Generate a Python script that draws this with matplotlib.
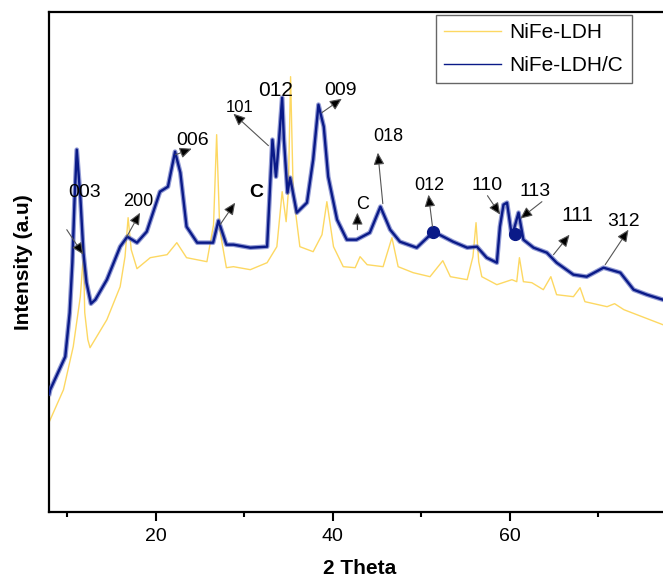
import numpy as np
import matplotlib
matplotlib.use("Agg")
from matplotlib import pyplot as plt

plt.rcParams['font.family'] = ['Liberation Sans', 'DejaVu Sans']

# NiFe-LDH/C (blue) - 2 theta, intensity (a.u.)
theta_c = [8.0, 8.1, 9.8, 10.3, 10.6, 10.85, 11.1, 11.5, 11.85, 12.2, 12.7, 13.2,
           14.5, 16.0, 16.8, 17.9, 19.0, 20.5, 21.4, 22.2, 22.8, 23.5, 24.7,
           26.5, 27.1, 28.0, 28.8, 30.7, 32.6, 32.9, 33.2, 33.6, 33.95, 34.3,
           34.5, 34.9, 35.2, 35.95, 37.1, 37.8, 38.4, 39.0, 39.5, 40.5, 41.6,
           42.7, 44.2, 45.4, 46.5, 47.6, 49.5, 51.4, 53.6, 55.2, 56.3, 57.4,
           58.55, 58.9, 59.3, 59.7, 60.25, 61.0, 61.55, 62.7, 64.2, 65.3, 67.2,
           68.7, 70.6, 72.5, 74.0, 75.5, 77.3, 78.0]
int_c = [118, 122, 155, 199, 249, 312, 362, 315, 259, 229, 208, 212,
         232, 265, 275, 269, 280, 320, 325, 360, 339, 285, 269,
         269, 291, 267, 267, 264, 265, 319, 372, 335, 372, 414,
         372, 319, 334, 299, 309, 352, 407, 385, 335, 292, 272,
         272, 279, 305, 282, 270, 264, 280, 270, 264, 265, 254,
         249, 285, 307, 309, 275, 299, 272, 264, 259, 249, 237,
         235, 244, 239, 222, 217, 212, 210]

# NiFe-LDH (yellow)
theta_ldh = [8.0, 9.6, 10.7, 11.5, 11.85, 12.0, 12.35, 12.6, 14.5, 16.0, 16.55,
             16.9, 17.25, 17.9, 19.4, 21.3, 22.4, 23.5, 25.8, 26.55, 26.9,
             27.25, 28.0, 28.8, 30.7, 32.6, 33.7, 34.3, 34.75, 35.0, 35.25,
             35.55, 36.3, 37.8, 38.8, 39.35, 40.1, 41.2, 42.55, 43.1, 43.9,
             45.7, 46.7, 47.4, 49.1, 51.0, 52.45, 53.3, 55.2, 55.85, 56.2,
             56.5, 56.85, 58.55, 60.25, 60.8, 61.1, 61.55, 62.5, 63.8, 64.65,
             65.3, 67.2, 67.95, 68.5, 71.0, 71.85, 72.9, 77.3, 78.0]
int_ldh = [90, 122, 165, 215, 257, 199, 172, 164, 192, 225, 255,
           294, 262, 243, 254, 257, 269, 254, 250, 287, 377,
           282, 244, 245, 242, 249, 265, 320, 290, 320, 435,
           318, 265, 260, 277, 310, 265, 245, 244, 255, 247,
           245, 274, 245, 239, 235, 251, 235, 232, 255, 289,
           250, 235, 227, 232, 230, 254, 230, 229, 222, 235,
           217, 215, 224, 210, 205, 208, 202, 187, 185]

# peak labels: text, text position, arrow tail, arrow head
labels = ['003', '200', '006', 'C', '101', '012', '009', '018', 'C', '012',
          '110', '113', '111', '312']
label_xy = [(12.0, 319), (18.0, 310), (24.2, 371), (31.4, 319), (29.5, 404),
            (33.6, 421), (40.9, 421), (46.3, 375), (43.4, 307), (50.9, 326),
            (57.5, 326), (62.9, 320), (67.6, 296), (72.9, 290)]
label_size = [14, 13, 14, 14, 12, 15, 14, 13, 13, 13, 14, 14, 15, 14]
label_bold = [False, False, False, True, False, False, False, False, False,
              False, False, False, False, False]
arrow_from = [(9.97, 282), (16.75, 275), (22.28, 357), (27.29, 287),
              (32.75, 366), None, (38.78, 399), (45.67, 308), (42.8, 282),
              (51.28, 285), (57.49, 316), (63.64, 310), (64.95, 257),
              (70.79, 247)]
arrow_to = [(11.84, 257), (18.25, 299), (24.09, 363), (28.99, 309),
            (28.79, 398), None, (41.04, 413), (45.11, 359), (42.8, 299),
            (50.83, 317), (58.93, 297), (61.19, 293), (66.76, 277),
            (73.42, 282)]

# big dots on the blue pattern
dot_x = [51.36, 60.63]
dot_y = [280, 278]

fig = plt.figure(figsize=(6.63, 5.81), dpi=100)
ax = fig.add_axes([0.0744, 0.1193, 0.9347, 0.8606])

ax.plot(theta_ldh, int_ldh, color='#fdd862', lw=1.0, label='NiFe-LDH', zorder=2)
ax.plot(theta_c, int_c, color='#4a58b8', lw=3.4, alpha=0.6, zorder=3)
ax.plot(theta_c, int_c, color='#0a1a88', lw=1.7, label='NiFe-LDH/C', zorder=3)
ax.plot(dot_x, dot_y, 'o', color='#0a1a88', ms=8.5, zorder=4)

for i in range(len(labels)):
    ax.text(label_xy[i][0], label_xy[i][1], labels[i], fontsize=label_size[i],
            fontweight='bold' if label_bold[i] else 'normal',
            ha='center', va='center', zorder=6)
    if arrow_from[i] is not None:
        ax.annotate('', xy=arrow_to[i], xytext=arrow_from[i],
                    arrowprops=dict(arrowstyle='-|>,head_length=0.6,head_width=0.27',
                                    fc='black', ec='#555555', lw=0.8,
                                    shrinkA=0, shrinkB=0, mutation_scale=12),
                    zorder=5)

ax.set_xlim(8, 78)
ax.set_ylim(0, 500)
ax.set_xticks([20, 40, 60])
ax.set_xticks([10, 30, 50, 70], minor=True)
ax.set_yticks([])
ax.tick_params(axis='x', which='major', length=6.5, width=1.5, labelsize=14, pad=5)
ax.tick_params(axis='x', which='minor', length=3.5, width=1.5)
for s in ax.spines.values():
    s.set_linewidth(1.6)

ax.set_xlabel('2 Theta', fontsize=15, fontweight='bold', labelpad=10)
ax.set_ylabel('Intensity (a.u)', fontsize=15, fontweight='bold', labelpad=12)

leg = ax.legend(loc='upper right', bbox_to_anchor=(0.9398, 0.9934), borderaxespad=0,
                fontsize=15, fancybox=False, edgecolor='#666666', framealpha=1,
                handlelength=2.75, handletextpad=0.4, labelspacing=0.65,
                borderpad=0.4)
leg.get_frame().set_linewidth(1.0)
for h in leg.get_lines():
    h.set_linewidth(1.0)

fig.savefig('out.png', dpi=100)
